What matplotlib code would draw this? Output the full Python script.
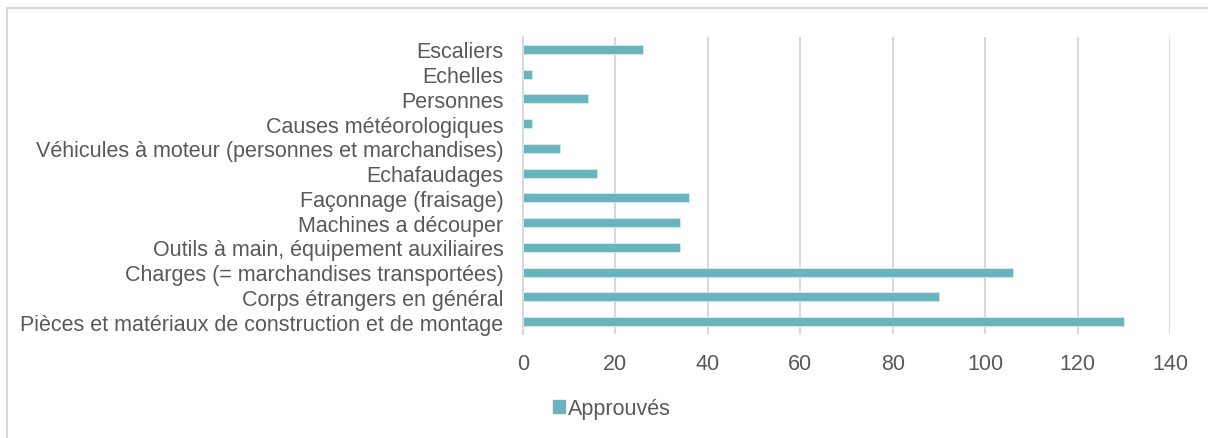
import matplotlib.pyplot as plt
from matplotlib.patches import Patch
from matplotlib.lines import Line2D

plt.rcParams['font.family'] = ['Liberation Sans', 'DejaVu Sans']

categories = [
    "Pièces et matériaux de construction et de montage",
    "Corps étrangers en général",
    "Charges (= marchandises transportées)",
    "Outils à main, équipement auxiliaires",
    "Machines a découper",
    "Façonnage (fraisage)",
    "Echafaudages",
    "Véhicules à moteur (personnes et marchandises)",
    "Causes météorologiques",
    "Personnes",
    "Echelles",
    "Escaliers",
]
approuves = [130, 90, 106, 34, 34, 36, 16, 8, 2, 14, 2, 26]
xticks = [0, 20, 40, 60, 80, 100, 120, 140]

bar_color = '#6AB4BE'
text_color = '#595959'
grid_color = '#D9D9D9'
fs = 15.5

fig = plt.figure(figsize=(12.08, 4.39), dpi=100)
ax = fig.add_axes([523 / 1208, 1 - 335 / 439, (1170 - 523) / 1208, (335 - 38) / 439])

ax.barh(range(len(categories)), approuves, height=0.37, color=bar_color,
        edgecolor='#D8ECEF', linewidth=0.6, zorder=3)

ax.set_xlim(0, 140)
ax.set_ylim(-0.5, len(categories) - 0.5)
ax.set_xticks(xticks)
ax.set_yticks(range(len(categories)))
ax.set_yticklabels(categories)
ax.tick_params(axis='both', length=0, colors=text_color, labelsize=fs)
ax.tick_params(axis='x', pad=14)
ax.tick_params(axis='y', pad=14)
ax.xaxis.grid(True, color=grid_color, linewidth=1.5, zorder=0)
for s in ['top', 'right', 'bottom']:
    ax.spines[s].set_visible(False)
ax.spines['left'].set_color(grid_color)
ax.spines['left'].set_linewidth(1.5)

# chart frame: only its top and left edges fall inside the image
fx, fy = 7.5 / 1208, 1 - 8.5 / 439
fig.add_artist(Line2D([fx, fx], [0, fy], transform=fig.transFigure,
                      color='#D9D9D9', linewidth=1.5))
fig.add_artist(Line2D([fx, 1], [fy, fy], transform=fig.transFigure,
                      color='#D9D9D9', linewidth=1.5))

fig.legend(handles=[Patch(color=bar_color, label='Approuvés')],
           loc='center', bbox_to_anchor=(612 / 1208, 1 - 410 / 439),
           frameon=False, fontsize=fs, labelcolor=text_color,
           handlelength=0.55, handleheight=0.55, handletextpad=0.15)

fig.savefig('out.png', dpi=100)
